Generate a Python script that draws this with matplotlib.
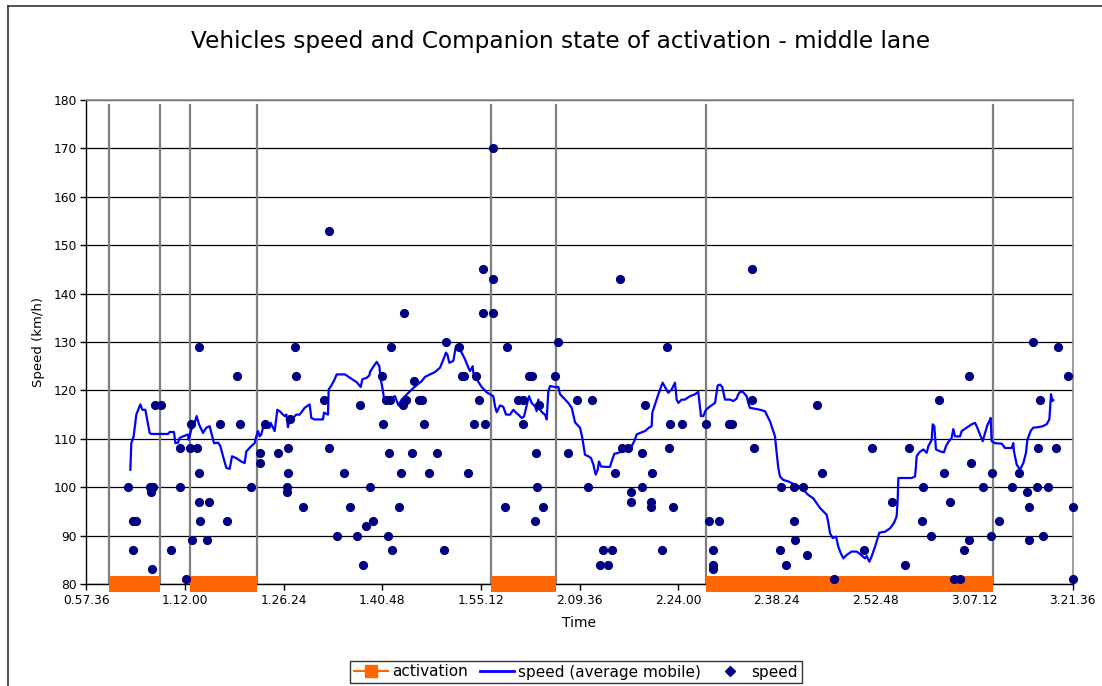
import matplotlib
matplotlib.use("Agg")
import matplotlib.pyplot as plt
from matplotlib.lines import Line2D

# time axis labels (h.mm.ss), one every 14'24"
time_labels = ["0.57.36", "1.12.00", "1.26.24", "1.40.48", "1.55.12", "2.09.36",
               "2.24.00", "2.38.24", "2.52.48", "3.07.12", "3.21.36"]
speed_ticks = [80, 90, 100, 110, 120, 130, 140, 150, 160, 170, 180]

# Companion activation periods (minutes)
activation_on = [60.87, 72.79, 116.75, 148.10]
activation_off = [68.31, 82.55, 126.10, 190.00]

# single vehicle speeds: time (minutes) and speed (km/h)
speed_time = [
    63.64, 64.37, 64.42, 64.80, 66.94, 67.10, 67.19, 67.38, 67.58, 68.46,
    70.01, 71.32, 71.32, 72.11, 72.69, 72.93, 72.98, 73.72, 74.05, 74.05,
    74.10, 74.15, 75.22, 75.51, 77.12, 78.18, 79.60, 80.08, 81.69, 82.90,
    82.96, 83.64, 85.54, 86.85, 86.85, 87.05, 87.05, 87.29, 88.02, 88.26,
    89.24, 92.26, 93.00, 93.10, 94.24, 95.22, 96.10, 97.16, 97.56, 98.04,
    98.43, 99.02, 99.41, 100.77, 100.96, 101.35, 101.64, 101.74, 101.94, 102.04,
    102.23, 103.20, 103.54, 103.90, 103.98, 104.27, 105.15, 105.44, 106.21, 106.55,
    106.94, 107.67, 108.80, 109.86, 110.16, 112.05, 112.40, 112.70, 113.37, 114.20,
    114.49, 114.97, 115.56, 115.57, 115.85, 116.90, 116.93, 116.94, 118.68, 118.97,
    120.67, 121.40, 121.40, 122.27, 122.66, 123.15, 123.21, 123.44, 123.69, 124.23,
    126.03, 126.42, 127.92, 129.28, 130.80, 131.47, 132.59, 133.07, 133.80, 134.30,
    134.78, 135.50, 135.76, 136.63, 137.12, 137.12, 138.72, 138.72, 139.12, 140.04,
    140.04, 140.18, 141.60, 142.37, 142.72, 142.77, 143.25, 144.60, 148.07, 148.46,
    149.09, 149.09, 149.09, 149.92, 151.42, 151.90, 154.76, 154.78, 155.12, 158.87,
    159.06, 159.70, 160.96, 160.96, 161.06, 162.27, 162.86, 164.32, 164.96, 166.75,
    171.09, 172.35, 175.18, 177.16, 177.70, 179.65, 179.70, 180.87, 182.08, 182.81,
    183.64, 184.31, 185.15, 185.77, 186.46, 186.50, 186.75, 188.46, 189.63, 189.86,
    190.88, 192.78, 193.71, 194.88, 195.18, 195.27, 195.85, 196.34, 196.49, 196.82,
    197.22, 198.04, 199.16, 199.40, 200.87, 201.60, 201.60,
]
speed_kmh = [
    100, 87, 93, 93, 100, 99, 83, 100, 117, 117,
    87, 108, 100, 81, 108, 113, 89, 108, 129, 103,
    97, 93, 89, 97, 113, 93, 123, 113, 100, 105,
    107, 113, 107, 100, 99, 108, 103, 114, 129, 123,
    96, 118, 108, 153, 90, 103, 96, 90, 117, 84,
    92, 100, 93, 123, 113, 118, 90, 107, 118, 129,
    87, 96, 103, 117, 136, 118, 107, 122, 118, 118,
    113, 103, 107, 87, 130, 129, 123, 123, 103, 113,
    123, 118, 136, 145, 113, 170, 136, 143, 96, 129,
    118, 118, 113, 123, 123, 93, 107, 100, 117, 96,
    123, 130, 107, 118, 100, 118, 84, 87, 84, 87,
    103, 143, 108, 108, 99, 97, 107, 100, 117, 97,
    96, 103, 87, 129, 108, 113, 96, 113, 113, 93,
    87, 84, 83, 93, 113, 113, 145, 118, 108, 87,
    100, 84, 100, 93, 89, 100, 86, 117, 103, 81,
    87, 108, 97, 84, 108, 93, 100, 90, 118, 103,
    97, 81, 81, 87, 123, 89, 105, 100, 90, 103,
    93, 100, 103, 99, 89, 96, 130, 100, 108, 118,
    90, 100, 108, 129, 123, 96, 81,
]

# moving average of speed: time (minutes) and speed (km/h)
avg_time = [
    64.03, 64.17, 64.51, 64.90, 65.49, 65.78, 66.22, 66.85, 67.09, 69.53,
    69.77, 70.40, 70.60, 70.99, 71.23, 71.72, 72.45, 72.54, 72.93, 73.42,
    73.71, 74.05, 74.64, 75.12, 75.61, 76.24, 76.83, 77.17, 77.56, 78.04,
    78.53, 78.87, 79.50, 80.23, 80.72, 80.96, 81.69, 82.18, 82.42, 82.67,
    82.91, 83.15, 83.49, 83.88, 84.37, 84.51, 85.10, 85.49, 85.83, 86.31,
    86.56, 86.80, 87.04, 87.29, 87.78, 88.26, 88.75, 89.48, 90.21, 90.45,
    90.94, 92.15, 92.30, 92.88, 92.98, 93.37, 93.86,
    94.15, 95.37, 96.10, 97.07, 97.66, 97.90, 98.53, 98.92, 99.02, 99.41,
    99.99, 100.38, 100.58, 100.87, 101.06, 101.70, 101.94, 102.18, 102.67, 103.16,
    103.64, 104.13, 104.62, 105.35, 105.93, 106.56, 107.05, 107.78, 108.51, 109.24,
    109.73, 110.11, 110.31, 110.60, 111.18, 111.57, 111.82, 112.06, 112.40, 112.89,
    113.37, 113.62, 114.01, 114.10, 114.59, 115.32, 116.05, 116.54, 117.02, 117.27,
    117.51, 118.00, 118.48, 118.87, 119.46, 119.94, 120.33, 120.67, 121.16, 121.50,
    121.89, 122.23, 122.62, 123.11, 123.35, 123.59, 123.84, 124.18, 124.57, 124.81,
    125.05, 125.30, 126.03, 126.51, 126.76, 127.24, 127.97, 128.46, 128.95,
    129.67, 130.01, 130.40, 130.89, 131.28, 131.62, 131.96, 132.25, 132.44, 132.74,
    133.32, 134.05, 134.29, 134.68, 135.27, 135.75, 136.97, 137.21, 137.60, 137.94,
    138.43, 139.16, 139.74, 140.13, 140.23, 140.62, 141.11, 141.49, 141.74, 142.08,
    142.57, 143.05, 143.34, 143.54, 143.78, 144.03, 144.51, 145.00, 145.39, 145.73,
    146.46, 146.94, 147.33, 147.67, 148.06, 148.65, 149.38, 149.77, 150.11, 150.45,
    150.84, 151.57, 152.05, 152.54, 152.78, 153.12, 153.51, 154.00, 154.24, 154.49,
    155.95, 156.68, 156.92, 157.41, 157.89, 158.14, 158.38, 158.62, 158.87, 159.35,
    160.08, 161.06, 162.03, 163.00, 163.73, 164.22, 164.71,
    165.20, 165.68, 165.93, 166.17, 166.56, 167.05, 167.39, 167.73, 168.12, 168.60,
    169.33, 170.06, 170.55, 170.94, 171.28, 171.52, 171.91, 172.25, 172.74, 173.37,
    174.20, 174.93, 175.51, 175.90, 176.05, 176.15, 177.12, 178.09, 178.58, 178.72,
    178.82, 179.21, 179.80, 180.28, 180.53, 180.77, 181.01, 181.16, 181.40, 181.64,
    182.23, 182.81, 183.10, 183.44, 183.93, 184.17, 184.42, 185.15, 185.39, 186.12,
    186.85, 187.34, 187.58, 187.97, 188.46, 188.80, 189.19, 189.43, 189.62, 189.77,
    190.26, 191.23, 191.72, 192.69, 192.93, 193.03, 193.42, 193.91, 194.39, 194.78,
    194.98, 195.46, 195.85, 196.58, 197.22, 197.80, 198.19, 198.29, 198.43, 198.63,
    198.77,
]
avg_kmh = [
    103.6, 109.1, 110.5, 115.0, 117.1, 116.0, 116.0, 111.2, 111.0, 111.0,
    111.4, 111.4, 109.1, 109.2, 110.2, 110.5, 110.9, 109.8, 111.9, 113.3,
    114.7, 113.0, 111.2, 112.3, 112.6, 109.1, 109.2, 108.5, 106.4, 104.0,
    103.8, 106.4, 106.0, 105.3, 105.0, 107.4, 108.5, 109.1, 110.5, 111.6,
    110.5, 110.9, 112.9, 112.3, 112.3, 113.3, 111.6, 116.0, 115.7, 115.0,
    114.7, 115.0, 112.4, 114.0, 114.3, 115.0, 115.0, 116.4, 117.1, 114.3,
    114.0, 114.0, 115.4, 115.0, 120.2, 121.0, 122.3,
    123.3, 123.3, 122.6, 121.7, 120.7, 122.3, 122.6, 123.1, 123.8, 124.7,
    125.9, 125.0, 122.3, 120.2, 118.3, 118.5, 117.4, 118.5, 118.8, 116.9,
    118.1, 118.8, 119.5, 120.5, 121.2, 121.9, 122.8, 123.3, 123.8, 124.7,
    126.4, 127.8, 127.4, 125.7, 126.1, 129.2, 128.6, 128.5, 127.8, 126.4,
    124.7, 124.0, 125.0, 123.6, 122.3, 120.7, 119.6, 119.2, 118.8, 116.7,
    115.5, 116.9, 116.6, 115.0, 115.0, 116.0, 115.4, 115.0, 114.3, 114.6,
    116.9, 118.8, 117.4, 116.7, 115.7, 118.1, 116.0, 115.4, 115.0, 114.0,
    119.8, 120.9, 120.7, 120.7, 119.2, 118.5, 117.4, 116.4, 113.4,
    112.3, 110.2, 106.7, 106.4, 106.0, 104.7, 102.6, 103.6, 105.3, 104.3,
    104.2, 104.2, 105.3, 106.9, 107.1, 107.4, 107.8, 108.5, 109.5, 110.9,
    111.2, 111.6, 112.3, 112.6, 115.4, 117.1, 119.2, 120.7, 121.6, 120.7,
    119.5, 120.2, 121.0, 121.6, 118.1, 117.4, 118.1, 118.1, 118.5, 118.8,
    119.2, 119.7, 114.7, 114.7, 116.0, 116.7, 117.4, 121.0, 121.2, 120.7,
    118.1, 118.1, 117.8, 118.3, 119.2, 119.8, 119.6, 118.8, 117.4, 116.4,
    116.0, 115.7, 115.0, 113.6, 111.6, 110.5, 107.1, 104.0, 102.2, 101.5,
    101.2, 100.5, 99.8, 98.4, 97.7, 96.7, 95.7,
    95.0, 94.3, 92.6, 90.5, 89.5, 89.8, 87.7, 86.4, 85.3, 86.0,
    86.7, 86.7, 86.2, 85.7, 85.3, 85.8, 84.6, 85.7, 87.7, 90.6,
    90.8, 91.5, 92.6, 94.0, 97.4, 101.9, 101.9, 101.9, 102.2, 104.3,
    106.4, 107.2, 107.8, 107.1, 108.5, 109.1, 109.8, 113.0, 112.6, 107.8,
    107.4, 107.2, 108.5, 109.3, 110.2, 112.0, 110.5, 110.5, 111.6, 112.3,
    113.0, 113.3, 112.6, 111.2, 109.5, 111.2, 113.0, 113.6, 114.3, 109.5,
    109.1, 109.0, 108.1, 108.1, 109.1, 107.4, 104.7, 103.6, 105.0, 107.1,
    109.8, 111.6, 112.3, 112.4, 112.6, 113.0, 114.0, 116.0, 119.2, 117.8,
    118.0,
]


def label_to_minutes(label):
    h, m, s = label.split(".")
    return int(h) * 60 + int(m) + int(s) / 60


ORANGE = "#FF6600"
BLUE = "#0000FF"
NAVY = "#000080"

fig = plt.figure(figsize=(11.02, 6.86), dpi=100)
ax = fig.add_axes([86.3 / 1102, 1 - 584 / 686, (1072.7 - 86.3) / 1102, 484 / 686])

tick_pos = [label_to_minutes(t) for t in time_labels]
ax.set_xlim(tick_pos[0], tick_pos[-1])
ax.set_ylim(speed_ticks[0], speed_ticks[-1])

ax.yaxis.grid(True, color="black", linewidth=0.9)
ax.set_axisbelow(True)

# activation: grey boundaries and thick orange band on the x axis
for start, end in zip(activation_on, activation_off):
    ax.plot([start, start], [80, 179], color="#7f7f7f", lw=1.6, zorder=2)
    ax.plot([end, end], [80, 179], color="#7f7f7f", lw=1.6, zorder=2)
    ax.plot([start, end], [80, 80], color=ORANGE, lw=11.5,
            solid_capstyle="butt", clip_on=False, zorder=3)

ax.plot(avg_time, avg_kmh, color=BLUE, lw=1.6, zorder=4)
ax.plot(speed_time, speed_kmh, linestyle="none", marker="o", markersize=5.6,
        color=NAVY, zorder=5, clip_on=False)

ax.set_xticks(tick_pos)
ax.set_xticklabels(time_labels)
ax.set_yticks(speed_ticks)
ax.tick_params(axis="both", direction="out", length=4, width=1, color="black",
               labelsize=8.8, pad=3)

for side in ["left", "bottom"]:
    ax.spines[side].set_color("black")
    ax.spines[side].set_linewidth(1)
for side in ["top", "right"]:
    ax.spines[side].set_color("#8c8c8c")
    ax.spines[side].set_linewidth(1.2)

ax.set_xlabel("Time", fontsize=10, labelpad=7)
ax.set_ylabel("Speed (km/h)", fontsize=9.5, labelpad=6)

fig.text(561 / 1102, 1 - 48 / 686, "Vehicles speed and Companion state of activation - middle lane",
         ha="center", va="baseline", fontsize=16.7)

# chart border (left and top visible)
fig.add_artist(Line2D([8 / 1102, 8 / 1102], [0, 1 - 6 / 686], color="#333333",
                      lw=1.2, transform=fig.transFigure))
fig.add_artist(Line2D([8 / 1102, 1], [1 - 6 / 686, 1 - 6 / 686], color="#333333",
                      lw=1.2, transform=fig.transFigure))

handles = [
    Line2D([], [], color=ORANGE, lw=1.5, marker="s", markersize=8),
    Line2D([], [], color=BLUE, lw=2),
    Line2D([], [], color=NAVY, linestyle="none", marker="D", markersize=5),
]
leg = fig.legend(handles, ["activation", "speed (average mobile)", "speed"],
                 loc="center", bbox_to_anchor=(576 / 1102, 1 - 672 / 686), ncol=3,
                 fontsize=11, frameon=True, fancybox=False, edgecolor="black",
                 handlelength=2.2, handletextpad=0.3, columnspacing=0.8,
                 borderpad=0.25)
leg.get_frame().set_linewidth(1)

fig.savefig("out.png", dpi=100)
